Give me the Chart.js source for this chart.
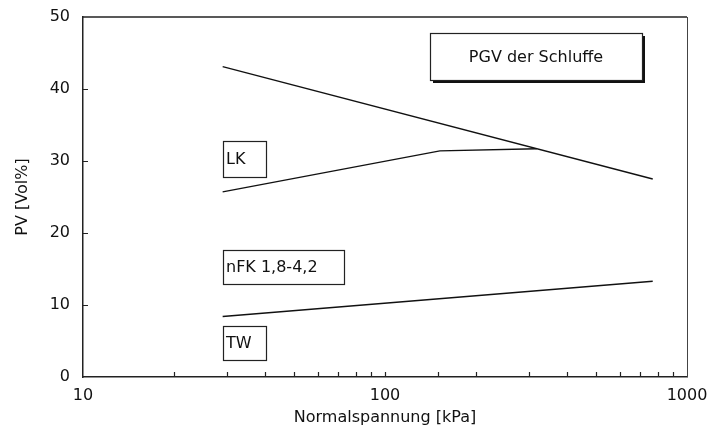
<!DOCTYPE html>
<html>
<head>
<meta charset="utf-8">
<script src="https://cdn.jsdelivr.net/npm/chart.js@4.4.1/dist/chart.umd.min.js"></script>
<style>
html, body { margin: 0; padding: 0; background: #fff; }
</style>
</head>
<body>
<canvas id="chart" width="712" height="432"></canvas>
<script>
// values (x = Normalspannung kPa, y = PV Vol%)
const pvX = [29, 770];
const pvY = [43.1, 27.5];
const lkX = [29, 152, 318];
const lkY = [25.7, 31.4, 31.7];
const twX = [29, 770];
const twY = [8.4, 13.3];
const xTickLabels = [10, 100, 1000];
const yTickLabels = [0, 10, 20, 30, 40, 50];

const FONT = 'DejaVu Sans';
const INK = '#111';

// label boxes, placed in data coordinates
const boxes = [
    { text: 'PGV der Schluffe', x1: 141, x2: 710, y1: 47.8, y2: 41.3, center: true, shadow: true },
    { text: 'LK', x1: 29, x2: 40.5, y1: 32.8, y2: 27.8 },
    { text: 'nFK 1,8-4,2', x1: 29, x2: 73, y1: 17.6, y2: 12.9 },
    { text: 'TW', x1: 29, x2: 40.5, y1: 7.1, y2: 2.4 }
];

function toPoints(xs, ys) {
    return xs.map((v, i) => ({ x: v, y: ys[i] }));
}

function lineSet(label, xs, ys) {
    return {
        label: label,
        data: toPoints(xs, ys),
        showLine: true,
        borderColor: INK,
        backgroundColor: INK,
        borderWidth: 1.3,
        pointRadius: 0,
        tension: 0
    };
}

// inward tick marks, top/right frame and the text boxes
const frameAndBoxes = {
    id: 'frameAndBoxes',
    afterDraw(chart) {
        const { ctx, chartArea: a, scales: { x, y } } = chart;
        ctx.save();
        ctx.strokeStyle = '#222';
        ctx.lineWidth = 1.2;
        ctx.beginPath();
        x.ticks.forEach(t => {
            if (t.value > 10 && t.value < 1000) {
                const px = Math.round(x.getPixelForValue(t.value)) + 0.5;
                ctx.moveTo(px, a.bottom);
                ctx.lineTo(px, a.bottom - 5);
            }
        });
        y.ticks.forEach(t => {
            if (t.value > 0 && t.value < 50) {
                const py = Math.round(y.getPixelForValue(t.value)) + 0.5;
                ctx.moveTo(a.left, py);
                ctx.lineTo(a.left + 5, py);
            }
        });
        ctx.stroke();

        ctx.beginPath();
        ctx.lineWidth = 1.5;
        ctx.moveTo(a.left, a.top);
        ctx.lineTo(a.right, a.top);
        ctx.stroke();
        ctx.beginPath();
        ctx.lineWidth = 1;
        ctx.strokeStyle = '#444';
        ctx.moveTo(a.right + 0.5, a.top);
        ctx.lineTo(a.right + 0.5, a.bottom);
        ctx.stroke();

        ctx.font = '16px "' + FONT + '"';
        ctx.textBaseline = 'middle';
        boxes.forEach(b => {
            const l = Math.round(x.getPixelForValue(b.x1));
            const r = Math.round(x.getPixelForValue(b.x2));
            const t = Math.round(y.getPixelForValue(b.y1));
            const bt = Math.round(y.getPixelForValue(b.y2));
            if (b.shadow) {
                ctx.fillStyle = '#111';
                ctx.fillRect(l + 3, t + 3, r - l, bt - t);
            }
            ctx.fillStyle = '#fff';
            ctx.fillRect(l, t, r - l, bt - t);
            ctx.strokeStyle = '#222';
            ctx.lineWidth = 1.2;
            ctx.strokeRect(l + 0.5, t + 0.5, r - l, bt - t);
            ctx.fillStyle = INK;
            if (b.center) {
                ctx.textAlign = 'center';
                ctx.fillText(b.text, (l + r) / 2, (t + bt) / 2 + 1);
            } else {
                ctx.textAlign = 'left';
                ctx.fillText(b.text, l + 3, (t + bt) / 2 + 1);
            }
        });
        ctx.restore();
    }
};

const ctx = document.getElementById('chart').getContext('2d');
new Chart(ctx, {
    type: 'scatter',
    data: {
        datasets: [
            lineSet('PGV', pvX, pvY),
            lineSet('LK', lkX, lkY),
            lineSet('TW', twX, twY)
        ]
    },
    options: {
        responsive: false,
        animation: false,
        layout: { padding: { top: 17, right: 25, left: 0, bottom: 0 } },
        plugins: {
            legend: { display: false },
            tooltip: { enabled: false }
        },
        scales: {
            x: {
                type: 'logarithmic',
                min: 10,
                max: 1000,
                afterFit(scale) {
                    scale.height = 55;
                    scale.paddingLeft = 0;
                    scale.paddingRight = 0;
                },
                grid: { display: true, drawOnChartArea: false, drawTicks: false },
                border: { display: true, color: '#222', width: 1.5 },
                ticks: {
                    autoSkip: false,
                    maxRotation: 0,
                    padding: 9,
                    color: INK,
                    font: { family: FONT, size: 16 },
                    callback: function (value) {
                        return xTickLabels.includes(value) ? String(value) : '';
                    }
                },
                title: {
                    display: true,
                    text: 'Normalspannung [kPa]',
                    color: INK,
                    font: { family: FONT, size: 16 },
                    padding: { top: 0, bottom: 5 }
                }
            },
            y: {
                min: 0,
                max: 50,
                afterFit(scale) {
                    scale.width = 83;
                    scale.paddingTop = 0;
                    scale.paddingBottom = 0;
                },
                grid: { display: true, drawOnChartArea: false, drawTicks: false },
                border: { display: true, color: '#222', width: 1.5 },
                ticks: {
                    stepSize: 10,
                    padding: 13,
                    color: INK,
                    font: { family: FONT, size: 16 },
                    callback: function (value) {
                        return yTickLabels.includes(value) ? String(value) : '';
                    }
                },
                title: {
                    display: true,
                    text: 'PV [Vol%]',
                    color: INK,
                    font: { family: FONT, size: 16 },
                    padding: { top: 13, bottom: 0 }
                }
            }
        }
    },
    plugins: [frameAndBoxes]
});
</script>
</body>
</html>
